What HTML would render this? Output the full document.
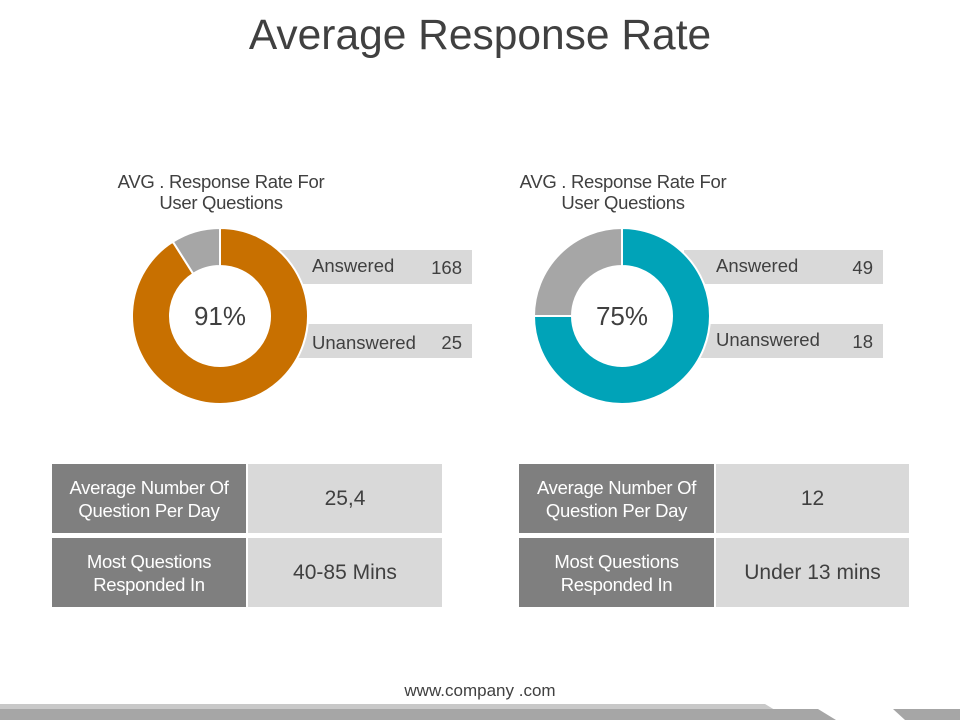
<!DOCTYPE html>
<html><head><meta charset="utf-8"><style>
body{margin:0;width:960px;height:720px;background:#fff;font-family:"Liberation Sans",sans-serif;overflow:hidden;position:relative}
.abs{position:absolute}
.cell{position:absolute;display:flex;align-items:center;justify-content:center;text-align:center;box-sizing:border-box}
.dark{background:#7f7f7f;color:#fff;font-size:18.5px;line-height:23px;letter-spacing:-0.3px}
.light{background:#d9d9d9;color:#404040;font-size:21px}
.lbl{position:absolute;background:#d9d9d9;color:#404040;font-size:18.5px}
.sub{position:absolute;text-align:center;color:#404040;font-size:18.5px;line-height:21px;width:300px;letter-spacing:-0.3px}
</style></head><body>
<div class="abs" style="left:0;top:12px;width:960px;text-align:center;font-size:42.5px;color:#404040">Average Response Rate</div>
<div class="sub" style="left:71px;top:171px">AVG . Response Rate For<br>User Questions</div>
<div class="sub" style="left:473px;top:171px">AVG . Response Rate For<br>User Questions</div>

<div class="lbl" style="left:280px;top:250px;width:192px;height:34px"><span style="position:absolute;left:32px;top:5px">Answered</span><span style="position:absolute;right:10px;top:7px">168</span></div>
<div class="lbl" style="left:280px;top:324px;width:192px;height:34px"><span style="position:absolute;left:32px;top:8px">Unanswered</span><span style="position:absolute;right:10px;top:8px">25</span></div>
<div class="lbl" style="left:684px;top:250px;width:199px;height:34px"><span style="position:absolute;left:32px;top:5px">Answered</span><span style="position:absolute;right:10px;top:7px">49</span></div>
<div class="lbl" style="left:684px;top:324px;width:199px;height:34px"><span style="position:absolute;left:32px;top:5px">Unanswered</span><span style="position:absolute;right:10px;top:7px">18</span></div>

<svg id="donuts" class="abs" style="left:0;top:0" width="960" height="720"></svg>

<div class="cell dark" style="left:52px;top:464px;width:194px;height:69px">Average Number Of<br>Question Per Day</div>
<div class="cell light" style="left:248px;top:464px;width:194px;height:69px">25,4</div>
<div class="cell dark" style="left:52px;top:538px;width:194px;height:69px">Most Questions<br>Responded In</div>
<div class="cell light" style="left:248px;top:538px;width:194px;height:69px">40-85 Mins</div>
<div class="cell dark" style="left:519px;top:464px;width:195px;height:69px">Average Number Of<br>Question Per Day</div>
<div class="cell light" style="left:716px;top:464px;width:193px;height:69px">12</div>
<div class="cell dark" style="left:519px;top:538px;width:195px;height:69px">Most Questions<br>Responded In</div>
<div class="cell light" style="left:716px;top:538px;width:193px;height:69px">Under 13 mins</div>

<div class="abs" style="left:0;top:681px;width:960px;text-align:center;font-size:17px;color:#404040">www.company .com</div>
<svg class="abs" style="left:0;top:700px" width="960" height="20">
<polygon points="0,4 765,4 775,10 0,10" fill="#c8c8c8"/>
<polygon points="0,9 818,9 836,20 0,20" fill="#a6a6a6"/>
<polygon points="893,9 960,9 960,20 905,20" fill="#a6a6a6"/>
</svg>
<script>
const donutNames=["left","right"];
const answeredPct=[91,75];
const unansweredPct=[9,25];
const centerLabels=["91%","75%"];
const ns="http://www.w3.org/2000/svg";
const svg=document.getElementById("donuts");
const centers=[[220,316],[622,316]];
const colors=["#c87000","#00a3b8"];
const R=88,r=50;
function arc(cx,cy,a0,a1){
  const p=(a,rad)=>[cx+rad*Math.sin(a),cy-rad*Math.cos(a)];
  const large=(a1-a0)>Math.PI?1:0;
  const [x0,y0]=p(a0,R),[x1,y1]=p(a1,R),[x2,y2]=p(a1,r),[x3,y3]=p(a0,r);
  return `M${x0},${y0}A${R},${R} 0 ${large} 1 ${x1},${y1}L${x2},${y2}A${r},${r} 0 ${large} 0 ${x3},${y3}Z`;
}
donutNames.forEach((n,i)=>{
  const [cx,cy]=centers[i];
  const tot=answeredPct[i]+unansweredPct[i];
  const aAns=answeredPct[i]/tot*2*Math.PI;
  const s1=document.createElementNS(ns,"path");
  s1.setAttribute("d",arc(cx,cy,0,aAns));
  s1.setAttribute("fill",colors[i]);s1.setAttribute("stroke","#fff");s1.setAttribute("stroke-width","2");
  
  
  svg.appendChild(s1);
  const s2=document.createElementNS(ns,"path");
  s2.setAttribute("d",arc(cx,cy,aAns,2*Math.PI));
  s2.setAttribute("fill","#a6a6a6");s2.setAttribute("stroke","#fff");s2.setAttribute("stroke-width","2");
  
  
  svg.appendChild(s2);
  const t=document.createElementNS(ns,"text");
  t.setAttribute("x",cx);t.setAttribute("y",cy+9);t.setAttribute("text-anchor","middle");
  t.setAttribute("font-size","26");t.setAttribute("fill","#404040");t.setAttribute("font-family","Liberation Sans, sans-serif");
  t.textContent=centerLabels[i];
  
  
  svg.appendChild(t);
});
</script>
</body></html>
